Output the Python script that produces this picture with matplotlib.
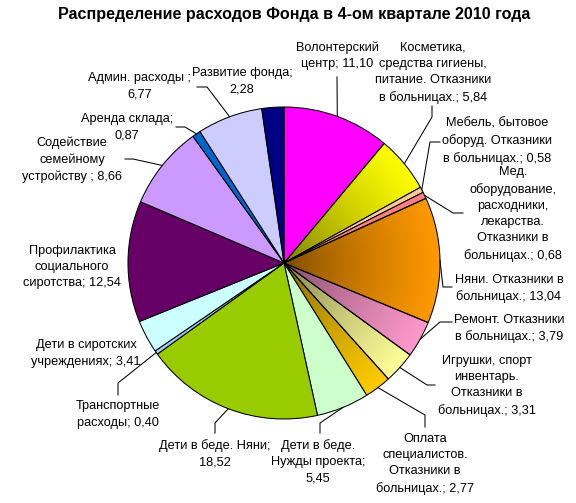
import numpy as np
import matplotlib
matplotlib.use("Agg")
import matplotlib.pyplot as plt
from matplotlib import colors as mcolors

# ---------------- data ----------------
categories = [
    "Волонтерский\nцентр; ",
    "Косметика,\nсредства гигиены,\nпитание. Отказники\nв больницах.; ",
    "Мебель, бытовое\nоборуд. Отказники\nв больницах.; ",
    "Мед.\nоборудование,\nрасходники,\nлекарства.\nОтказники в\nбольницах.; ",
    "Няни. Отказники в\nбольницах.; ",
    "Ремонт. Отказники\nв больницах.; ",
    "Игрушки, спорт\nинвентарь.\nОтказники в\nбольницах.; ",
    "Оплата\nспециалистов.\nОтказники в\nбольницах.; ",
    "Дети в беде.\nНужды проекта;\n",
    "Дети в беде. Няни;\n",
    "Транспортные\nрасходы; ",
    "Дети в сиротских\nучреждениях; ",
    "Профилактика\nсоциального\nсиротства; ",
    "Содействие\nсемейному\nустройству ; ",
    "Аренда склада;\n",
    "Админ. расходы ;\n",
    "Развитие фонда;\n",
]
values = [11.10, 5.84, 0.58, 0.68, 13.04, 3.79, 3.31, 2.77, 5.45,
          18.52, 0.40, 3.41, 12.54, 8.66, 0.87, 6.77, 2.28]
slice_colors = ["#FF00FF", "#FFFF00", "#FFCC99", "#FF8080", "#FF9900",
                "#FF99CC", "#FFFF99", "#FFCC00", "#CCFFCC", "#99CC00",
                "#99CCFF", "#CCFFFF", "#660066", "#CC99FF", "#0066CC",
                "#CCCCFF", "#000080"]
gradient = [False, True, False, False, True, True, True, True, False,
            False, False, False, False, False, False, False, False]
title = "Распределение расходов Фонда в 4-ом квартале 2010 года"

# ---------------- layout (pixel coords, y down) ----------------
W, H = 576, 503
CX, CY, R = 284, 263, 156
label_pos = [(337, 56), (433, 73), (497, 141), (513, 214), (509, 288.5),
             (509, 328.5), (487, 386), (425, 464), (318, 462), (215, 453.5),
             (118, 414.5), (86, 353.5), (72, 267), (72, 160), (127, 127),
             (140, 86.5), (242, 81.5)]
leader_knees = [
    [(337, 77)],
    [(432, 117), (432, 106)],
    [(430, 142), (440, 142)],
    [(453, 213), (463, 213)],
    [(443, 287), (452, 287)],
    [(440, 322), (452, 322)],
    [(427, 385), (435, 385)],
    [(425, 415), (425, 427)],
    [(320, 423), (320, 433)],
    [(215, 423), (215, 433)],
    [(118, 383), (118, 395)],
    None,
    None,
    [(133, 159), (125, 159)],
    [(185, 127), (176, 127)],
    [(207, 87), (197, 87)],
    None,
]


def Y(y):
    return H - y


plt.rcParams['font.family'] = ['Liberation Sans', 'DejaVu Sans']
fig = plt.figure(figsize=(5.76, 5.03), dpi=100)
ax = fig.add_axes([0, 0, 1, 1])

wedges, _ = ax.pie(values, colors=slice_colors, startangle=90,
                   counterclock=False, center=(CX, Y(CY)), radius=R,
                   wedgeprops=dict(edgecolor='black', linewidth=0.75),
                   frame=True)

# radial gradient fill for some slices
n = 400
xs = np.linspace(CX - R, CX + R, n)
ys = np.linspace(Y(CY) - R, Y(CY) + R, n)
XX, YY = np.meshgrid(xs, ys)
rr = np.clip(np.hypot(XX - CX, YY - Y(CY)) / R, 0, 1)
shade = 0.45 + 0.55 * rr ** 0.7
for w, c, g in zip(wedges, slice_colors, gradient):
    if not g:
        continue
    base = np.array(mcolors.to_rgb(c))
    img = np.clip(shade[..., None] * base[None, None, :], 0, 1)
    w.set_facecolor('none')
    im = ax.imshow(img, extent=(CX - R, CX + R, Y(CY) - R, Y(CY) + R),
                   origin='lower', zorder=0.9, interpolation='bilinear')
    im.set_clip_path(w)

ax.set_xlim(0, W)
ax.set_ylim(0, H)
ax.set_aspect('equal')
ax.axis('off')

# labels and leaders
for w, cat, v, pos, knees in zip(wedges, categories, values, label_pos, leader_knees):
    txt = cat + f"{v:.2f}".replace('.', ',')
    ax.text(pos[0], Y(pos[1]), txt, ha='center', va='center',
            multialignment='center', fontsize=9.2, linespacing=1.48,
            color='black', zorder=5)
    if knees:
        mid = np.deg2rad((w.theta1 + w.theta2) / 2)
        ex = CX + R * np.cos(mid)
        ey = Y(CY) + R * np.sin(mid)
        px = [ex] + [k[0] for k in knees]
        py = [ey] + [Y(k[1]) for k in knees]
        ax.plot(px, py, color='black', linewidth=0.75, zorder=4)

ax.text(294.5, Y(14), title, ha='center', va='center', fontsize=11.6,
        fontweight='bold', color='black')

fig.savefig("out.png", dpi=100, facecolor='white')
